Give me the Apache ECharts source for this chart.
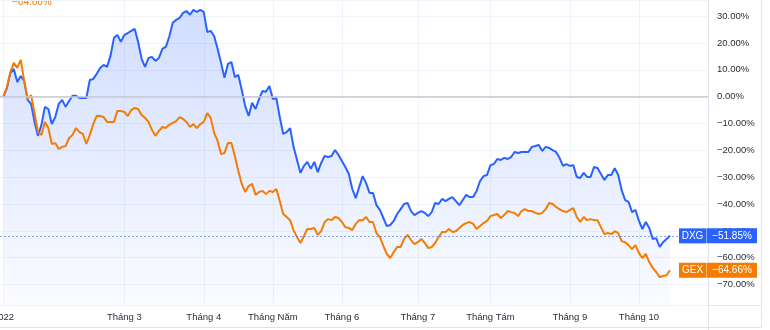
<!DOCTYPE html>
<html>
<head>
<meta charset="utf-8">
<script src="https://cdn.jsdelivr.net/npm/echarts@6/dist/echarts.min.js"></script>
<style>html,body{margin:0;padding:0;background:#fff}#c{width:770px;height:330px}</style>
</head>
<body>
<div id="c"></div>
<script>
// ---- data (percent change since first trading day of 2022) ----
const seriesNames = ['DXG', 'GEX'];
const holidays = ['2022-01-31','2022-02-01','2022-02-02','2022-02-03','2022-02-04','2022-04-11','2022-05-02','2022-05-03','2022-09-01','2022-09-02'];
const firstDay = '2022-01-04';
const lastDay = '2022-10-14';
const tickDates = ['2022-01-04','2022-03-01','2022-04-01','2022-05-04','2022-06-01','2022-07-01','2022-08-01','2022-09-05','2022-10-03'];
const tickLabels = ['2022','Tháng 3','Tháng 4','Tháng Năm','Tháng 6','Tháng 7','Tháng Tám','Tháng 9','Tháng 10'];
const dxg = [
 0, 3.2, 8.8, 10.3, 5.5, 7.7, 5.9, -1.2, -2.7, -9.4,
 -14.6, -10.5, -3.8, -4.6, -10.2, -7.6, -2.7, -1.2, -3.8, -1.6,
 0.3, 0.3, -0.5, -0.5, -0.5, 6.2, 6.6, 8.5, 10.7, 11.8,
 11.1, 15.2, 21.9, 23.0, 20.4, 23.0, 23.7, 24.5, 25.2, 20.4,
 14.1, 11.1, 14.4, 14.8, 13.3, 14.4, 17.8, 18.5, 22.3, 27.5,
 28.6, 29.3, 31.2, 31.9, 30.5, 32.3, 31.6, 32.3, 31.6, 24.1,
 24.5, 22.6, 17.8, 12.6, 7.0, 12.2, 12.9, 7.3, 8.1, 2.5,
 -3.5, -7.2, -2.3, -4.6, -0.9, 2.1, 1.8, 4.0, -0.9, -0.5,
 -7.6, -13.9, -13.2, -11.7, -18.7, -23.6, -28.4, -25.8, -24.3, -26.9,
 -24.3, -28.1, -24.7, -22.1, -22.5, -22.1, -19.9, -21.7, -24.0, -26.2,
 -28.8, -34.4, -37.8, -33.7, -29.6, -32.2, -35.9, -35.9, -40.4, -42.2,
 -45.2, -48.2, -47.8, -46.3, -43.7, -41.9, -40.0, -39.6, -42.6, -44.1,
 -43.3, -42.6, -43.3, -44.5, -43.0, -39.6, -40.0, -38.1, -38.9, -38.1,
 -37.4, -38.9, -40.4, -38.5, -36.6, -37.4, -37.4, -35.1, -31.4, -29.6,
 -29.2, -25.5, -25.1, -23.2, -23.6, -22.8, -23.2, -22.5, -20.6, -21.0,
 -20.6, -20.6, -20.6, -18.7, -18.4, -18.0, -20.2, -18.7, -19.1, -19.9,
 -20.6, -22.8, -25.8, -25.1, -25.8, -25.5, -29.9, -30.3, -28.4, -29.9,
 -29.9, -26.2, -26.6, -28.8, -31.0, -29.2, -29.2, -26.6, -29.2, -34.8,
 -38.5, -39.2, -43.0, -42.2, -46.3, -49.3, -46.7, -48.9, -53.0, -52.7,
 -56.0, -54.2, -53.0, -51.85
];
const gex = [
 0, 3.6, 9.2, 12.6, 10.7, 13.7, 5.9, -0.9, 0.6, -6.1,
 -13.2, -14.3, -9.4, -11.7, -17.6, -17.3, -19.5, -18.7, -18.4, -15.4,
 -14.3, -11.7, -13.2, -13.9, -17.6, -14.3, -10.2, -7.2, -7.2, -7.6,
 -9.4, -9.4, -9.4, -5.3, -5.3, -5.7, -7.2, -5.0, -4.2, -4.6,
 -6.8, -7.9, -9.4, -12.4, -14.6, -12.8, -11.3, -11.7, -10.5, -9.8,
 -9.1, -7.6, -8.3, -9.4, -11.3, -10.2, -11.7, -10.2, -9.4, -6.1,
 -7.9, -13.5, -16.5, -21.4, -21.0, -17.3, -17.3, -22.1, -27.7, -32.5,
 -35.5, -33.3, -32.5, -36.6, -35.5, -35.1, -36.3, -35.1, -35.5, -34.4,
 -38.9, -43.7, -44.8, -46.0, -49.7, -52.3, -54.5, -51.9, -49.3, -49.3,
 -48.9, -51.5, -50.1, -46.7, -45.6, -46.0, -44.8, -45.2, -46.7, -48.6,
 -48.9, -49.7, -47.4, -46.0, -46.0, -44.8, -46.7, -46.7, -50.8, -52.3,
 -55.6, -58.6, -60.1, -57.9, -56.0, -56.0, -53.0, -51.5, -53.4, -54.9,
 -54.2, -53.0, -54.5, -56.4, -56.0, -54.5, -52.3, -50.4, -50.4, -49.3,
 -50.4, -50.1, -48.9, -47.8, -47.1, -46.7, -47.4, -49.3, -48.2, -47.1,
 -46.3, -44.5, -44.1, -43.7, -45.2, -44.1, -42.6, -43.0, -43.3, -44.5,
 -42.6, -41.9, -42.6, -42.6, -43.3, -43.7, -43.3, -41.9, -39.6, -40.0,
 -41.1, -41.9, -42.6, -43.0, -42.2, -41.5, -44.8, -46.7, -44.8, -46.0,
 -45.6, -46.0, -46.0, -48.6, -51.2, -50.8, -51.2, -50.1, -50.8, -53.8,
 -54.2, -55.3, -56.8, -55.3, -58.3, -60.1, -58.6, -61.6, -63.8, -65.3,
 -67.2, -66.8, -66.5, -64.66
];

// ---- build trading-day categories ----
function tradingDays() {
  const out = [];
  let t = Date.parse(firstDay + 'T00:00:00Z');
  const end = Date.parse(lastDay + 'T00:00:00Z');
  while (t <= end) {
    const d = new Date(t);
    const wd = d.getUTCDay();
    const s = d.toISOString().slice(0, 10);
    if (wd !== 0 && wd !== 6 && holidays.indexOf(s) < 0) out.push(s);
    t += 86400000;
  }
  return out;
}
const days = tradingDays();
const categories = ['lead'].concat(days);
for (let i = 0; categories.length < 206; i++) categories.push('pad' + i);

const BLUE = '#2962ff', ORANGE = '#f57c00';
const FONT = '"Liberation Sans", Arial, sans-serif';
const fmtPct = v => (v < 0 ? '\u2212' : '') + Math.abs(v).toFixed(2) + '%';
const isTick = v => tickDates.indexOf(v) >= 0;

function endLabel(name, color, sepColor) {
  return {
    show: true, distance: 9,
    formatter: p => '{n|' + name + '}{s|}{v|' + fmtPct(p.value) + '}',
    rich: {
      n: {backgroundColor: color, color: '#fff', width: 27, height: 15, align: 'center', fontSize: 10, fontFamily: FONT},
      s: {backgroundColor: sepColor, width: 1, height: 15, align: 'center'},
      v: {backgroundColor: color, color: '#fff', width: 50, height: 15, align: 'center', fontSize: 10, fontFamily: FONT}
    }
  };
}

const chart = echarts.init(document.getElementById('c'), null, {renderer: 'canvas'});
chart.setOption({
  animation: false,
  backgroundColor: '#ffffff',
  grid: {left: 0, right: 62, top: 0, bottom: 25, containLabel: false, outerBoundsMode: 'none'},
  xAxis: {
    type: 'category', data: categories, boundaryGap: false,
    axisLine: {show: true, lineStyle: {color: '#e0e3eb', width: 1}},
    axisTick: {show: false},
    axisLabel: {
      interval: (i, v) => isTick(v), margin: 7, color: '#2a2e39', fontSize: 9.5, fontFamily: FONT,
      formatter: v => { const k = tickDates.indexOf(v); return k >= 0 ? tickLabels[k] : ''; }
    },
    splitLine: {show: true, interval: (i, v) => isTick(v), lineStyle: {color: '#f0f3fa', width: 1}}
  },
  yAxis: {
    type: 'value', position: 'right', min: -77.6, max: 36.0, minInterval: 10, maxInterval: 10, splitNumber: 11,
    axisLine: {show: true, lineStyle: {color: '#e0e3eb', width: 1}},
    axisTick: {show: false},
    axisLabel: {
      showMinLabel: false, showMaxLabel: false, margin: 9, color: '#2a2e39', fontSize: 9.5, fontFamily: FONT,
      formatter: v => (Math.abs(v % 10) < 1e-6 ? fmtPct(v) : '')
    },
    splitLine: {show: true, lineStyle: {color: '#f0f3fa', width: 1}}
  },
  series: [
    {
      name: seriesNames[0], type: 'line', data: [null].concat(dxg), showSymbol: false, symbol: 'none',
      lineStyle: {color: BLUE, width: 2}, itemStyle: {color: BLUE},
      areaStyle: {origin: 'start', color: new echarts.graphic.LinearGradient(0, 0, 0, 1, [
        {offset: 0, color: 'rgba(41,98,255,0.30)'}, {offset: 1, color: 'rgba(41,98,255,0.03)'}])},
      endLabel: endLabel(seriesNames[0], BLUE, '#8fa8ff'),
      markLine: {
        silent: true, symbol: ['none', 'none'], label: {show: false}, animation: false,
        data: [
          {yAxis: 0, lineStyle: {color: '#c8cbd3', width: 1.5, type: 'solid'}},
          {yAxis: dxg[dxg.length - 1], lineStyle: {color: 'rgba(41,98,255,0.55)', width: 1, type: [2, 2]}}
        ]
      },
      z: 2
    },
    {
      name: seriesNames[1], type: 'line', data: [null].concat(gex), showSymbol: false, symbol: 'none',
      lineStyle: {color: ORANGE, width: 2}, itemStyle: {color: ORANGE},
      endLabel: endLabel(seriesNames[1], ORANGE, '#fbb878'),
      z: 3
    }
  ],
  graphic: [
    {type: 'text', left: 12, top: -3, silent: true,
     style: {text: fmtPct(gex[gex.length - 1]), fill: ORANGE, font: '10px ' + FONT}},
    {type: 'line', silent: true, shape: {x1: 708.5, y1: 305, x2: 708.5, y2: 330}, style: {stroke: '#e0e3eb', lineWidth: 1}},
    {type: 'line', silent: true, shape: {x1: 708, y1: 305.5, x2: 761, y2: 305.5}, style: {stroke: '#e0e3eb', lineWidth: 1}},
    {type: 'line', silent: true, shape: {x1: 761.5, y1: 0, x2: 761.5, y2: 328}, style: {stroke: '#e0e3eb', lineWidth: 1}},
    {type: 'line', silent: true, shape: {x1: 0, y1: 327.5, x2: 762, y2: 327.5}, style: {stroke: '#e0e3eb', lineWidth: 1}}
  ]
});
</script>
</body>
</html>
